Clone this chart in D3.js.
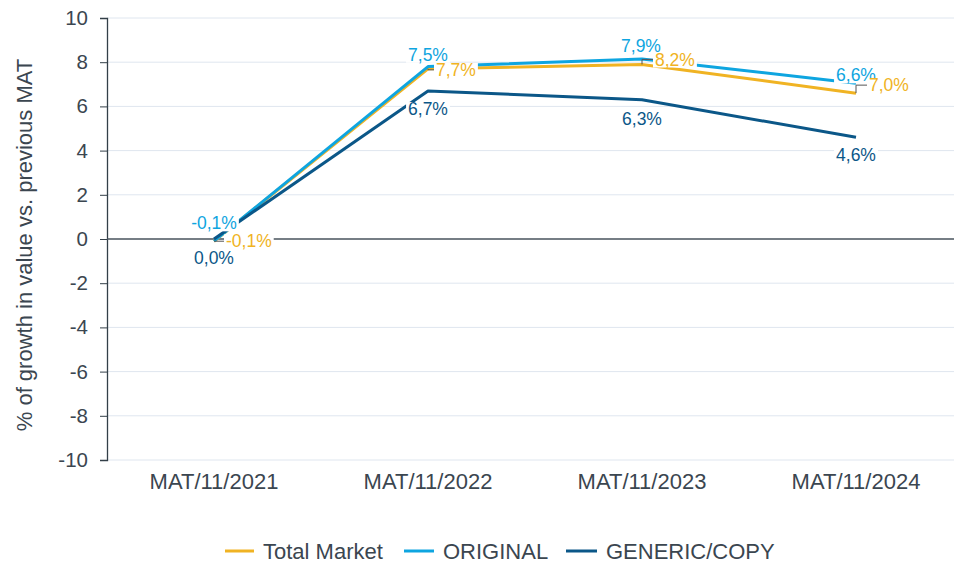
<!DOCTYPE html>
<html>
<head>
<meta charset="utf-8">
<script src="https://cdn.jsdelivr.net/npm/d3@7"></script>
<style>
  body { margin: 0; background: #fff; }
  svg { display: block; font-family: "Liberation Sans", Arial, sans-serif; }
</style>
</head>
<body>
<svg id="chart" width="954" height="563"></svg>
<script>
const categories = ["MAT/11/2021", "MAT/11/2022", "MAT/11/2023", "MAT/11/2024"];
const totalMarket = [-0.1, 7.7, 7.9, 6.6];
const original = [-0.1, 7.8, 8.15, 7.05];
const generic = [0.0, 6.7, 6.3, 4.6];
const totalLabels = ["-0,1%", "7,7%", "8,2%", "7,0%"];
const originalLabels = ["-0,1%", "7,5%", "7,9%", "6,6%"];
const genericLabels = ["0,0%", "6,7%", "6,3%", "4,6%"];
const yTicks = [-10, -8, -6, -4, -2, 0, 2, 4, 6, 8, 10];

const textColor = "#3b4650";
const series = [
  { name: "Total Market", values: totalMarket, labels: totalLabels, color: "#f0b323",
    // label offsets relative to the point
    place: [[12, 0, "start"], [8, 1, "start"], [13, -5, "start"], [13, -8, "start"]] },
  { name: "ORIGINAL", values: original, labels: originalLabels, color: "#0ea5e0",
    place: [[0, -18, "middle"], [0, -12, "middle"], [-1, -13, "middle"], [0, -8, "middle"]] },
  { name: "GENERIC/COPY", values: generic, labels: genericLabels, color: "#0b5788",
    place: [[0, 19, "middle"], [0, 18, "middle"], [0, 19, "middle"], [0, 18, "middle"]] }
];

const svg = d3.select("#chart");
const margin = { top: 18, left: 107, bottom: 460 };

const x = d3.scaleBand().domain(categories).range([107, 963]).padding(0);
const y = d3.scaleLinear().domain([-10, 10]).range([460, 18]);
const cx = c => x(c) + x.bandwidth() / 2;

// grid
svg.append("g").selectAll("line")
  .data(yTicks.filter(d => d !== 0))
  .enter().append("line")
  .attr("x1", 107).attr("x2", 954)
  .attr("y1", d => y(d)).attr("y2", d => y(d))
  .attr("stroke", "#dfe6ef").attr("stroke-width", 1);

// y axis
const yAxis = svg.append("g")
  .attr("transform", `translate(${margin.left},0)`)
  .call(d3.axisLeft(y).tickValues(yTicks).tickSize(7).tickPadding(12).tickFormat(d => String(d)));
yAxis.select(".domain").attr("stroke", "#333f48").attr("stroke-width", 1.3);
yAxis.selectAll(".tick line").attr("stroke", "#333f48");
yAxis.selectAll("text").attr("fill", textColor).attr("font-size", 20.5)
  .attr("font-family", "Liberation Sans, Arial, sans-serif");

// zero line
svg.append("line")
  .attr("x1", 107).attr("x2", 954)
  .attr("y1", y(0)).attr("y2", y(0))
  .attr("stroke", "#48535c").attr("stroke-width", 1.5);

// x labels
svg.append("g").selectAll("text")
  .data(categories)
  .enter().append("text")
  .attr("x", d => cx(d)).attr("y", 489)
  .attr("text-anchor", "middle")
  .attr("font-size", 22).attr("fill", textColor)
  .text(d => d);

// y title
svg.append("text")
  .attr("transform", `translate(32,${(y(10) + y(-10)) / 2 + 6}) rotate(-90)`)
  .attr("text-anchor", "middle")
  .attr("font-size", 22).attr("fill", textColor)
  .text("% of growth in value vs. previous MAT");

// lines
const line = d3.line().x((d, i) => cx(categories[i])).y(d => y(d));
series.forEach(s => {
  svg.append("path")
    .datum(s.values)
    .attr("fill", "none")
    .attr("stroke", s.color)
    .attr("stroke-width", 3)
    .attr("stroke-linejoin", "round")
    .attr("d", line);
});

// leader lines for the side labels
const totalS = series[0];
totalS.values.forEach((v, i) => {
  const px = cx(categories[i]), py = y(v);
  const [dx, dy] = totalS.place[i];
  svg.append("path")
    .attr("d", `M${px + dx - 2},${py + dy} H${px} V${py}`)
    .attr("fill", "none").attr("stroke", "#555").attr("stroke-width", 1);
});

// data labels with white boxes (total market drawn last, on top)
const labelLayer = svg.append("g");
[series[1], series[2], series[0]].forEach(s => {
  s.values.forEach((v, i) => {
    const px = cx(categories[i]), py = y(v);
    const [dx, dy, anchor] = s.place[i];
    const g = labelLayer.append("g");
    const t = g.append("text")
      .attr("x", px + dx).attr("y", py + dy)
      .attr("dy", "0.35em")
      .attr("text-anchor", anchor)
      .attr("font-size", 17.5)
      .attr("fill", s.color)
      .text(s.labels[i]);
    const b = t.node().getBBox();
    g.insert("rect", "text")
      .attr("x", b.x - 2).attr("y", b.y + 3)
      .attr("width", b.width + 4).attr("height", b.height - 5)
      .attr("fill", "#fff");
  });
});

// legend
const legendItems = [
  { s: series[0], x: 225, w: 29 },
  { s: series[1], x: 404, w: 30 },
  { s: series[2], x: 566, w: 31 }
];
const legend = svg.append("g");
legendItems.forEach(d => {
  legend.append("line")
    .attr("x1", d.x).attr("x2", d.x + d.w)
    .attr("y1", 551).attr("y2", 551)
    .attr("stroke", d.s.color).attr("stroke-width", 3);
  legend.append("text")
    .attr("x", d.x + d.w + 9).attr("y", 551)
    .attr("dy", "0.35em")
    .attr("font-size", 22).attr("fill", textColor)
    .text(d.s.name);
});
</script>
</body>
</html>
